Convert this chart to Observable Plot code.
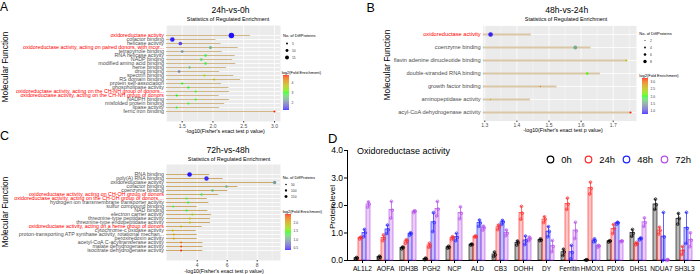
<!DOCTYPE html>
<html><head><meta charset="utf-8">
<script src="https://cdn.jsdelivr.net/npm/d3@7"></script>
<script src="https://cdn.jsdelivr.net/npm/@observablehq/plot@0.6"></script>
<style>
body{margin:0;background:#fff;}
#root{position:relative;width:700px;height:274px;overflow:hidden;background:#fff;font-family:"Liberation Sans",Arial,Helvetica,sans-serif;}
</style></head><body><div id="root"></div>
<script>
// ---------------- DATA ----------------
// Panel A : 24h-vs-0h
const termsA = ["oxidoreductase activity","cofactor binding","helicase activity","oxidoreductase activity, acting on paired donors, with incor...","tetrapyrrole binding","RNA helicase activity","NADP binding","modified amino acid binding","heme binding","drug binding","spectrin binding","RS domain binding","protein self-association","phospholipase activity","oxidoreductase activity, acting on the CH-NH group of donors...","oxidoreductase activity, acting on the CH-NH group of donors","NADPH binding","misfolded protein binding","lipase activity","ferric iron binding"];
const pA    = [2.30,1.34,1.47,1.96,1.50,1.88,1.81,1.88,1.62,1.45,1.86,2.02,1.50,1.60,1.72,1.41,1.72,1.60,1.41,3.00];
const lineA = [2.61,2.05,2.13,2.41,2.15,2.36,2.32,2.37,2.22,2.11,2.34,2.45,2.14,2.26,2.27,2.10,2.27,2.19,2.11,3.00];
const nA    = [23,18,14,11,9,9,9,9,7,9,6,6,6,6,6,6,6,6,6,6];
const fcA   = [1.25,1.3,1.55,2.4,2.1,2.85,2.7,2.85,2.5,2.0,3.3,3.7,3.0,3.0,3.05,3.0,3.05,2.95,2.95,4.75];
const hiA   = ["oxidoreductase activity","oxidoreductase activity, acting on paired donors, with incor...","oxidoreductase activity, acting on the CH-NH group of donors...","oxidoreductase activity, acting on the CH-NH group of donors"];
const sizeBreaksA = [5,10,15];
const colorBreaksA = [2,3,4];

// Panel B : 48h-vs-24h
const termsB = ["oxidoreductase activity","coenzyme binding","flavin adenine dinucleotide binding","double-stranded RNA binding","growth factor binding","aminopeptidase activity","acyl-CoA dehydrogenase activity"];
const pB    = [1.318,1.582,1.741,1.619,1.473,1.318,1.754];
const lineB = [1.445,1.631,1.741,1.660,1.525,1.442,1.754];
const nB    = [11,9,5,6,3,3,5];
const fcB   = [0.85,1.55,2.45,2.1,2.85,2.5,3.2];
const hiB   = ["oxidoreductase activity"];
const sizeBreaksB = [2,4,6,8];
const colorBreaksB = [1.0,1.5,2.0,2.5,3.0];

// Panel C : 72h-vs-48h
const termsC = ["RNA binding","poly(A) RNA binding","oxidoreductase activity","cofactor binding","coenzyme binding","oxidoreductase activity, acting on CH-OH group of donors","oxidoreductase activity, acting on the CH-OH group of donors,...","hydrogen ion transmembrane transporter activity","sulfur compound binding","NAD binding","electron carrier activity","threonine-type peptidase activity","threonine-type endopeptidase activity","oxidoreductase activity, acting on a heme group of donors","cytochrome-c oxidase activity","proton-transporting ATP synthase activity, rotational mechan...","peroxiredoxin activity","acetyl-CoA C-acyltransferase activity","malate dehydrogenase activity","isocitrate dehydrogenase activity"];
const pC    = [3.49,4.62,9.16,5.95,5.02,4.29,3.29,3.40,2.40,3.29,3.67,3.51,3.51,2.93,2.36,2.44,2.44,2.93,2.93,2.93];
const lineC = [4.84,5.73,9.16,6.72,6.04,5.44,4.67,4.78,4.00,4.71,4.96,4.89,4.89,4.33,3.93,4.00,4.00,4.38,4.38,4.38];
const nC    = [264,250,180,120,120,105,95,95,80,95,90,85,85,75,65,70,70,70,70,70];
const fcC   = [0.4,0.45,0.95,1.05,1.1,1.3,1.35,1.4,1.35,1.4,1.6,1.8,1.8,1.9,1.85,2.0,2.0,2.25,2.4,2.45];
const hiC   = ["oxidoreductase activity, acting on CH-OH group of donors","oxidoreductase activity, acting on the CH-OH group of donors,...","oxidoreductase activity, acting on a heme group of donors"];
const sizeBreaksC = [50,100,150];
const colorBreaksC = [0.5,1.0,1.5,2.0];

// Panel D : Oxidoreductase activity, protein level (3 replicates)
const genes = ["AL1L2","AOFA","IDH3B","PGH2","NCP","ALD","CB3","DOHH","DY","Ferritin","HMOX1","PDX6","DHS1","NDUA7","SH3L3"];
const times = ["0h","24h","48h","72h"];
const rep0h  = [[0.05,0.09,0.11],[0.09,0.12,0.16],[0.42,0.47,0.49],[0.03,0.06,0.09],[0.45,0.48,0.52],[0.56,0.58,0.60],[0.14,0.21,0.31],[0.56,0.65,0.71],[0.72,0.74,0.79],[0.18,0.31,0.41],[0.01,0.02,0.03],[0.67,0.71,0.72],[0.88,0.99,1.13],[1.86,2.03,2.23],[1.32,1.53,1.71]];
const rep24h = [[0.78,0.83,0.85],[0.72,0.81,0.93],[0.63,0.71,0.76],[0.48,0.54,0.63],[0.76,0.83,0.87],[0.85,0.86,0.90],[1.12,1.22,1.29],[1.50,1.72,1.97],[1.38,1.50,1.59],[1.86,2.05,2.27],[2.42,2.62,2.85],[0.98,1.16,1.31],[0.57,0.60,0.66],[0.96,1.10,1.21],[0.22,0.35,0.51]];
const rep48h = [[0.86,1.01,1.13],[0.98,1.12,1.29],[0.92,0.98,1.01],[1.05,1.38,1.74],[0.72,0.84,0.99],[1.24,1.37,1.47],[1.31,1.40,1.46],[0.58,0.72,0.89],[0.86,1.06,1.23],[0.06,0.29,0.55],[0.68,0.72,0.79],[1.32,1.37,1.39],[0.75,0.80,0.82],[0.00,0.86,1.75],[0.62,1.17,1.75]];
const rep72h = [[1.94,2.05,2.13],[1.54,1.83,2.15],[1.74,1.79,1.81],[1.62,1.87,2.15],[1.52,1.72,1.95],[1.10,1.19,1.25],[0.90,0.99,1.11],[0.72,0.80,0.85],[0.32,0.51,0.73],[0.80,1.08,1.39],[0.48,0.53,0.55],[0.68,0.71,0.71],[1.24,1.38,1.55],[0.00,0.02,0.04],[0.50,0.74,1.01]];
const timeColors = ["#000000","#ff2a2a","#1f1fff","#b44ee6"];

// ---------------- HELPERS ----------------
const FONT = '"Liberation Sans", Arial, Helvetica, sans-serif';
const root = document.getElementById("root");
const baseStyle = {fontFamily: FONT, background: "transparent", overflow: "visible"};
function place(node, left, top) {
  node.style.position = "absolute";
  node.style.left = left + "px";
  node.style.top = top + "px";
  node.style.maxWidth = "none";
  root.appendChild(node);
  return node;
}
const colorInterp = d3.piecewise(d3.interpolateLab, ["#0000ff", "#00ff00", "#ff0000"]);

function enrichPlot(o) {
  const data = o.terms.map((t, i) => ({term: t, p: o.p[i], end: o.line[i], n: o.n[i], fc: o.fc[i], hi: o.hi.includes(t)}));
  return Plot.plot({
    width: o.width, height: o.height,
    marginLeft: o.ml, marginRight: o.mr, marginTop: o.mt, marginBottom: o.mb,
    style: baseStyle,
    x: {domain: o.xDomain},
    y: {type: "point", domain: o.terms, padding: 0.6, axis: null},
    r: o.rScale,
    color: {type: "linear", domain: o.colorDomain, interpolate: colorInterp},
    marks: [
      Plot.frame({fill: "#ebebeb"}),
      Plot.ruleX(o.xMinor, {stroke: "#fff", strokeWidth: 0.4}),
      Plot.ruleX(o.xTicks, {stroke: "#fff", strokeWidth: 0.8}),
      Plot.ruleY(o.terms, {stroke: "#fff", strokeWidth: 0.8}),
      Plot.ruleY(data, {y: "term", x1: o.xDomain[0], x2: "end", stroke: o.lineColor, strokeWidth: o.lineWidth}),
      Plot.dot(data, {x: "p", y: "term", r: "n", fill: "fc"}),
      Plot.axisX({ticks: o.xTicks, tickFormat: o.xFormat, tickSize: 1.5, tickPadding: 1, fontSize: 5, fill: "#4d4d4d", stroke: "#333", label: null}),
      Plot.text(data, {filter: d => !d.hi, y: "term", text: "term", frameAnchor: "left", textAnchor: "end", dx: -2.5, fontSize: o.fs, fill: "#4d4d4d"}),
      Plot.text(data, {filter: d => d.hi, y: "term", text: "term", frameAnchor: "left", textAnchor: "end", dx: -2.5, fontSize: o.fs, fill: "#ff0000"})
    ]
  });
}

function sizeLegend(breaks, rScale, left, top, step) {
  const svg = Plot.plot({
    width: 24, height: step * breaks.length, margin: 0,
    style: baseStyle,
    x: {domain: [0, 1], axis: null},
    y: {type: "point", domain: breaks, padding: 0.5, axis: null},
    r: rScale,
    marks: [
      Plot.dot(breaks, {y: d => d, r: d => d, fill: "#000", frameAnchor: "left", dx: 3.5}),
      Plot.text(breaks, {y: d => d, text: d => String(d), frameAnchor: "left", dx: 8.5, textAnchor: "start", fontSize: 3.3, fill: "#333"})
    ]
  });
  return place(svg, left, top);
}

function colorLegend(domain, breaks, fmt, left, top, h) {
  const N = 60, s = (domain[1] - domain[0]) / N;
  const slices = d3.range(N).map(i => domain[0] + i * s);
  const svg = Plot.plot({
    width: 20, height: h, margin: 0, marginRight: 14,
    style: baseStyle,
    x: {domain: [0, 1], axis: null},
    y: {domain: domain, axis: null},
    color: {type: "linear", domain: domain, interpolate: colorInterp},
    marks: [
      Plot.rect(slices, {x1: 0, x2: 1, y1: d => d, y2: d => d + s * 1.05, fill: d => d + s / 2}),
      Plot.text(breaks, {y: d => d, text: d => d3.format(fmt)(d), frameAnchor: "right", dx: 2, textAnchor: "start", fontSize: 3.3, fill: "#333"})
    ]
  });
  return place(svg, left, top);
}

// ---------------- PANEL A ----------------
const rA = {type: "linear", domain: [0, 25], range: [0.45, 2.95]};
place(enrichPlot({terms: termsA, p: pA, line: lineA, n: nA, fc: fcA, hi: hiA,
  width: 282, height: 134, ml: 166, mr: 2, mt: 25, mb: 13,
  xDomain: [1.245, 3.098], xTicks: [1.5, 2.0, 2.5, 3.0], xMinor: [1.25, 1.75, 2.25, 2.75], xFormat: d3.format(".1f"),
  rScale: rA, colorDomain: [1.21, 4.79], lineColor: "#d2b889", lineWidth: 1.15, fs: 5.3}), 0, 0);
sizeLegend(sizeBreaksA, rA, 283.2, 39.0, 7.3);
colorLegend([1.21, 4.79], colorBreaksA, "d", 283.3, 75, 35);

// ---------------- PANEL B ----------------
const rB = {type: "linear", domain: [0, 10], range: [0.1, 2.1]};
place(enrichPlot({terms: termsB, p: pB, line: lineB, n: nB, fc: fcB, hi: hiB,
  width: 290, height: 134, ml: 132.7, mr: 4, mt: 25.4, mb: 13.4,
  xDomain: [1.295, 1.7726], xTicks: [1.3, 1.4, 1.5, 1.6, 1.7], xMinor: [1.35, 1.45, 1.55, 1.65, 1.75], xFormat: d3.format(".1f"),
  rScale: rB, colorDomain: [0.78, 3.23], lineColor: "#dac7a8", lineWidth: 1.9, fs: 5.7}), 350, 0);
sizeLegend(sizeBreaksB, rB, 640.5, 36.4, 7.2);
colorLegend([0.78, 3.23], colorBreaksB, ".1f", 642, 78.3, 36);

// ---------------- PANEL C ----------------
const rC = {type: "linear", domain: [0, 300], range: [0.45, 2.55]};
place(enrichPlot({terms: termsC, p: pC, line: lineC, n: nC, fc: fcC, hi: hiC,
  width: 282, height: 134, ml: 166, mr: 2, mt: 24, mb: 14,
  xDomain: [1.953, 9.553], xTicks: [4, 6, 8], xMinor: [3, 5, 7, 9], xFormat: d3.format("d"),
  rScale: rC, colorDomain: [0.37, 2.47], lineColor: "#c9a15a", lineWidth: 0.9, fs: 5.3}), 0, 140);
sizeLegend(sizeBreaksC, rC, 281.5, 180.0, 6.8);
colorLegend([0.37, 2.47], colorBreaksC, ".1f", 285, 214, 36);

// ---------------- PANEL D ----------------
const reps = [rep0h, rep24h, rep48h, rep72h];
const stats = [], pts = [];
genes.forEach((g, gi) => times.forEach((t, ti) => {
  const v = reps[ti][gi];
  const m = d3.mean(v), sd = d3.deviation(v);
  stats.push({gene: g, time: t, mean: m, lo: Math.max(0, m - sd), hi: m + sd});
  v.forEach((val, k) => pts.push({gene: g, time: t, value: val, k}));
}));
const dW = 400, dH = 144, dML = 47, dMR = 0, dMT = 20, dMB = 14;
// axes layer
place(Plot.plot({
  width: dW, height: dH, marginLeft: dML, marginRight: dMR, marginTop: dMT, marginBottom: dMB,
  style: baseStyle,
  x: {domain: [0, 1], axis: null},
  y: {domain: [0, 4]},
  marks: [
    Plot.ruleY([0], {stroke: "#000", strokeWidth: 1}),
    Plot.ruleX([0], {stroke: "#000", strokeWidth: 1}),
    Plot.axisY({ticks: [0, 1, 2, 3, 4], tickSize: 3, tickPadding: 1.5, fontSize: 8.5, fill: "#000", stroke: "#000", label: null})
  ]
}), 300, 130);
// bars layer
const dotMarks = [-0.8, 0.8, 0].map((dx, k) =>
  Plot.dot(pts, {filter: d => d.k === k, fx: "gene", x: "time", y: "value", stroke: "time", r: 1.35, strokeWidth: 0.7, fill: "none", dx}));
place(Plot.plot({
  width: dW, height: dH, marginLeft: dML, marginRight: dMR, marginTop: dMT, marginBottom: dMB,
  style: baseStyle,
  fx: {domain: genes, paddingInner: 0.2, paddingOuter: 0.05, label: null},
  x: {domain: times, padding: 0.08, axis: null},
  y: {domain: [0, 4], axis: null},
  color: {domain: times, range: timeColors},
  marks: [
    Plot.barY(stats, {fx: "gene", x: "time", y: "mean", fill: "time", fillOpacity: 0.28, stroke: "time", strokeWidth: 0.6}),
    Plot.ruleX(stats, {fx: "gene", x: "time", y1: "lo", y2: "hi", stroke: "time", strokeWidth: 0.7}),
    Plot.tickY(stats, {fx: "gene", x: "time", y: "hi", stroke: "time", strokeWidth: 0.7, insetLeft: 0.9, insetRight: 0.9}),
    Plot.tickY(stats, {fx: "gene", x: "time", y: "lo", stroke: "time", strokeWidth: 0.7, insetLeft: 0.9, insetRight: 0.9}),
    ...dotMarks,
    Plot.axisFx({anchor: "bottom", tickSize: 3, tickPadding: 2.5, fontSize: 6.6, fill: "#000", stroke: "#000", label: null})
  ]
}), 300, 130);
// D legend
place(Plot.plot({
  width: 150, height: 12, margin: 0, marginRight: 30,
  style: baseStyle,
  x: {type: "point", domain: times, range: [0, 116], padding: 0, axis: null},
  color: {domain: times, range: timeColors},
  marks: [
    Plot.dot(times, {x: d => d, stroke: d => d, r: 3.3, strokeWidth: 1.2, fill: "none"}),
    Plot.text(times, {x: d => d, text: d => d, dx: 10.7, textAnchor: "start", fontSize: 9.5, fill: "#000"})
  ]
}), 549, 153.3);

// ---------------- STATIC TEXT ----------------
const ov = d3.create("svg").attr("width", 700).attr("height", 274)
  .style("position", "absolute").style("left", "0px").style("top", "0px")
  .style("font-family", FONT).style("pointer-events", "none");
const T = (txt, x, y, size, opt = {}) => {
  const t = ov.append("text").attr("x", x).attr("y", y).attr("font-size", size)
    .attr("text-anchor", opt.anchor || "start").attr("fill", opt.fill || "#000").text(txt);
  if (opt.rot) t.attr("transform", `rotate(-90 ${x} ${y})`);
  return t;
};
T("A", 0, 10.5, 12);
T("B", 366.5, 11.5, 12.5);
T("C", 0, 139.5, 12.5);
T("D", 328, 142.5, 13);
T("24h-vs-0h", 230.5, 13.3, 8.6, {anchor: "middle"});
T("Statistics of Regulated Enrichment", 228, 20.7, 5.4, {anchor: "middle"});
T("48h-vs-24h", 566.7, 12.7, 8.6, {anchor: "middle"});
T("Statistics of Regulated Enrichment", 566, 21, 5.4, {anchor: "middle"});
T("72h-vs-48h", 228, 153.3, 8.6, {anchor: "middle"});
T("Statistics of Regulated Enrichment", 229, 161, 5.4, {anchor: "middle"});
T("-log10(Fisher's exact test p value)", 225, 132.5, 5.3, {anchor: "middle"});
T("-log10(Fisher's exact test p value)", 563, 132, 5.3, {anchor: "middle"});
T("-log10(Fisher's exact test p value)", 224, 272.5, 5.3, {anchor: "middle"});
T("Molecular Function", 7.5, 67, 8.4, {anchor: "middle", rot: true});
T("Molecular Function", 389.5, 65, 8.4, {anchor: "middle", rot: true});
T("Molecular Function", 7.5, 212, 8.4, {anchor: "middle", rot: true});
T("No. of DiffProteins", 283, 37, 4, {});
T("log2(Fold Enrichment)", 281.7, 73.5, 4, {});
T("No. of DiffProteins", 639.3, 35.3, 4, {});
T("log2(Fold Enrichment)", 639.3, 76.5, 4, {});
T("No. of DiffProteins", 282.7, 178.5, 4, {});
T("log2(Fold Enrichment)", 282.7, 212.5, 4, {});
T("Oxidoreductase activity", 357, 153.5, 9);
T("Protein level", 334.5, 207, 8, {anchor: "middle", rot: true});
root.appendChild(ov.node());
</script>
</body></html>
